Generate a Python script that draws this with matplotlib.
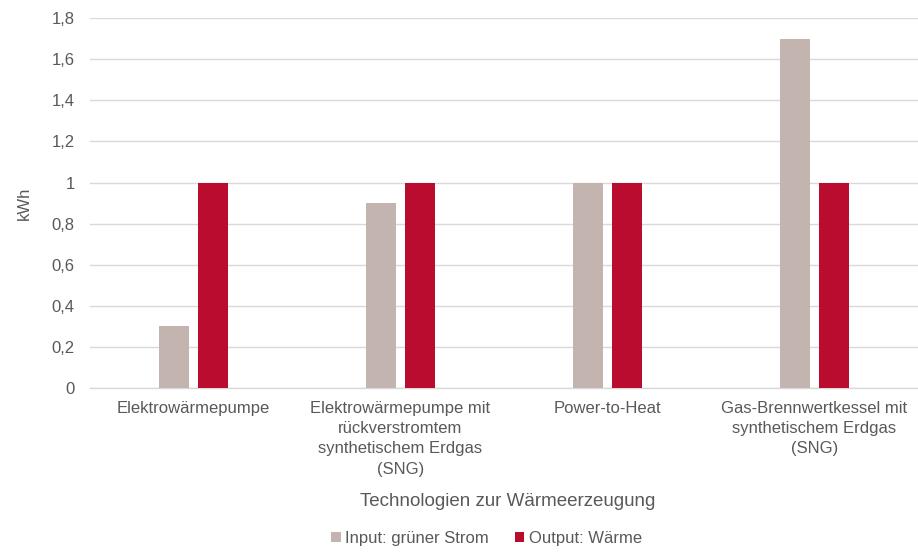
import matplotlib
matplotlib.use("Agg")
import matplotlib.pyplot as plt
import numpy as np
from matplotlib.ticker import FuncFormatter

categories = ["Elektrowärmepumpe",
              "Elektrowärmepumpe mit\nrückverstromtem\nsynthetischem Erdgas\n(SNG)",
              "Power-to-Heat",
              "Gas-Brennwertkessel mit\nsynthetischem Erdgas\n(SNG)"]
input_strom = [0.3, 0.9, 1.0, 1.7]
output_waerme = [1.0, 1.0, 1.0, 1.0]
series_names = ["Input: grüner Strom", "Output: Wärme"]
yticks = [0, 0.2, 0.4, 0.6, 0.8, 1.0, 1.2, 1.4, 1.6, 1.8]

plt.rcParams['font.family'] = ['Liberation Sans', 'DejaVu Sans']
txt = '#595959'

fig = plt.figure(figsize=(9.18, 5.52), dpi=100)
ax = fig.add_axes([0.098, 0.297, 0.902, 0.670])

x = np.arange(len(categories))
w = 0.145
off = 0.096
ax.bar(x - off, input_strom, w, color='#C4B4B0', label=series_names[0], zorder=3)
ax.bar(x + off, output_waerme, w, color='#BA0C2F', label=series_names[1], zorder=3)

ax.set_xlim(-0.5, 3.5)
ax.set_ylim(0, 1.8)
ax.set_yticks(yticks)
ax.yaxis.set_major_formatter(FuncFormatter(lambda v, p: f"{v:g}".replace('.', ',')))
ax.grid(axis='y', color='#D9D9D9', linewidth=1, zorder=0)
for s in ['top', 'right', 'left']:
    ax.spines[s].set_visible(False)
ax.spines['bottom'].set_color('#D9D9D9')
ax.spines['bottom'].set_linewidth(1)
ax.tick_params(axis='both', length=0, colors=txt, labelsize=12)
ax.tick_params(axis='y', pad=11)
ax.set_xticks(x)
ax.set_xticklabels(categories, linespacing=1.45)
ax.tick_params(axis='x', pad=9)
ax.set_ylabel("kWh", color=txt, fontsize=12, labelpad=14)
ax.set_xlabel("Technologien zur Wärmeerzeugung", color=txt, fontsize=13.5, va='center')
ax.xaxis.set_label_coords(0.505, -0.308)

leg = fig.legend(loc='center', bbox_to_anchor=(0.53, 0.025), ncol=2, frameon=False,
                 fontsize=12, handlelength=0.55, handleheight=0.55, handletextpad=0.25,
                 columnspacing=1.6, labelcolor=txt)

fig.savefig("out.png", dpi=100)
